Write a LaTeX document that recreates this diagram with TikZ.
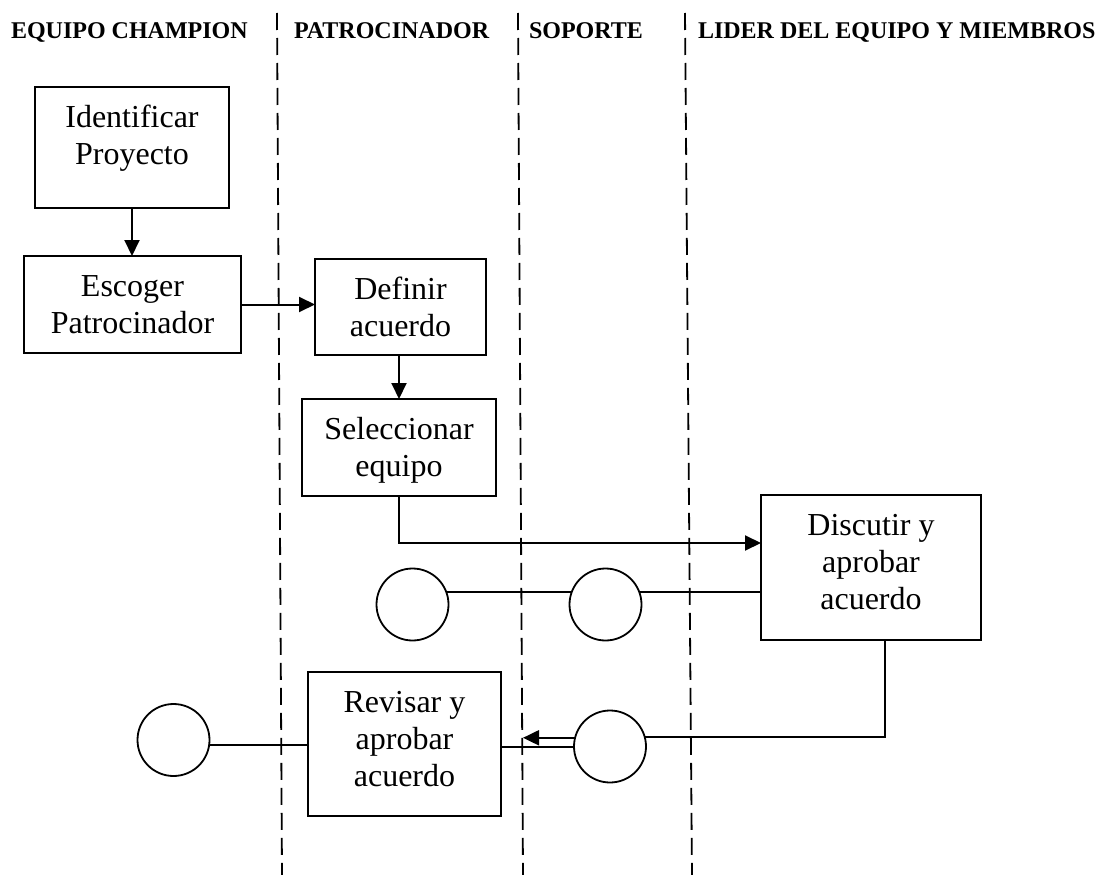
\documentclass[tikz,border=0pt]{standalone}
\usepackage{fontspec}
\setmainfont{Liberation Serif}
\usetikzlibrary{arrows.meta,calc}
% box text: fixed-size top-aligned paragraph, first baseline 40pt below the top
\newcommand\boxtext[3]{\parbox[c][#2][t]{#1}{\centering\fontsize{32}{37}\selectfont\rule{0pt}{40pt}#3}}
\begin{document}
\begin{tikzpicture}[x=1pt,y={(0pt,-1pt)},
  line width=2pt,
  box/.style={draw, inner sep=0pt, outer sep=0pt, anchor=north west},
  hdr/.style={anchor=base west, inner sep=0pt, font=\fontsize{24}{28}\selectfont\bfseries},
  state/.style={draw, circle, minimum size=72pt, inner sep=0pt, outer sep=0pt, line width=1.8pt},
  lane/.style={dash pattern=on 17pt off 8pt, line width=1.8pt},
  arr/.style={-{Triangle[length=16pt,width=15pt]}},
]
\fill[white] (0,0) rectangle (1101,875);
\useasboundingbox (0,0) rectangle (1101,875);

% swimlane separators
\draw[lane] (277,13) -- (282,875);
\draw[lane] (518,13) -- (523,875);
\draw[lane] (685,13) -- (692,875);

% lane headings
\node[hdr] (h1) at (10,39) {EQUIPO CHAMPION};
\node[hdr] (h2) at (293,39) {PATROCINADOR};
\node[hdr] (h3) at (528,39) {SOPORTE};
\node[hdr] (h4) at (697,39) {LIDER DEL EQUIPO Y MIEMBROS};

% activities
\node[box] (idp) at (35,87)   {\boxtext{194pt}{121pt}{Identificar\\Proyecto}};
\node[box] (esc) at (24,256)  {\boxtext{217pt}{97pt}{Escoger\\Patrocinador}};
\node[box] (def) at (315,259) {\boxtext{171pt}{96pt}{Definir\\acuerdo}};
\node[box] (sel) at (302,399) {\boxtext{194pt}{97pt}{Seleccionar\\equipo}};
\node[box] (dis) at (761,495) {\boxtext{220pt}{145pt}{Discutir y\\aprobar\\acuerdo}};
\node[box] (rev) at (308,672) {\boxtext{193pt}{144pt}{Revisar y\\aprobar\\acuerdo}};

% connector circles
\node[state] (c1) at (412.5,604.5) {};
\node[state] (c2) at (605.5,604.5) {};
\node[state] (c3) at (173.5,740) {};
\node[state] (c4) at (610,746.5) {};

% flow
\draw[arr] (idp.south) -- (idp.south |- esc.north);
\draw[arr] (esc.east) -- (esc.east -| def.west);
\draw[arr] (sel.north |- def.south) -- (sel.north);
\draw[arr] (sel.south) |- ([yshift=-48pt]dis.north west);
\draw (c1.20) -- (c2.160);
\draw (c2.20) -- (c2.20 -| dis.west);
\draw ([xshift=14pt]dis.south) |- (c4.16);
\draw (c4.west) -- (c4.west -| rev.east);
\coordinate (tip) at (523,737);
\draw[arr] (c4.166) -- (c4.166 -| tip);
\draw (c3.-8) -- (c3.-8 -| rev.west);
\end{tikzpicture}
\end{document}
